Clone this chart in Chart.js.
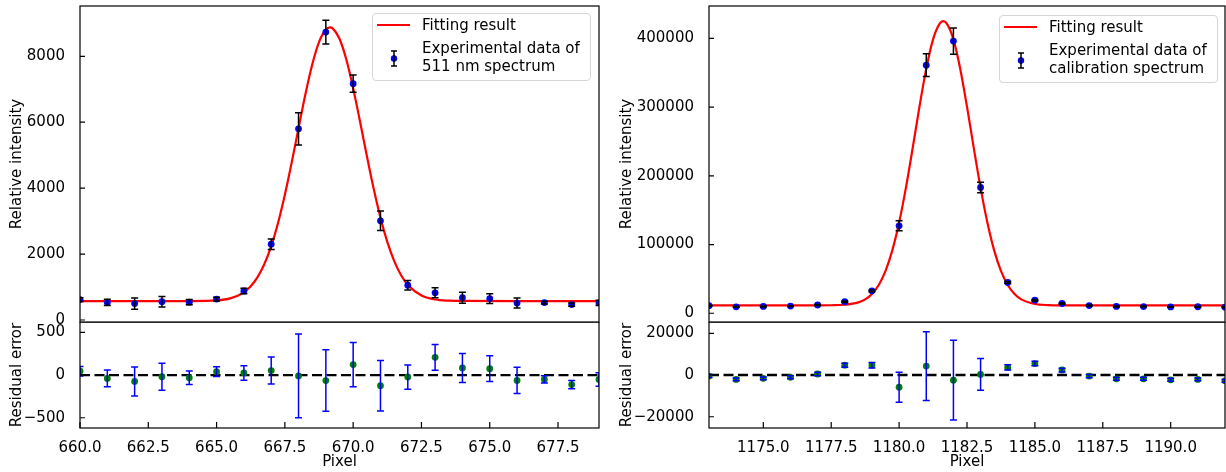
<!DOCTYPE html>
<html lang="en">
<head>
<meta charset="UTF-8">
<title>Gaussian fit of spectra</title>
<style>
  body { margin: 0; background: #fff; font-family: 'DejaVu Sans', sans-serif; }
  #wrap { position: relative; width: 1226px; height: 472px; overflow: hidden; }
  canvas { position: absolute; }
  .legend { position: absolute; width: 217px; height: 66px; border: 1px solid #d6d6d6; border-radius: 4px; background: rgba(255,255,255,0.8); color: #000; font-size: 15px; }
  .legend .ln { position: absolute; left: 4px; top: 10px; width: 33px; height: 2px; background: #f00; }
  .legend .t1 { position: absolute; left: 49px; top: 2px; line-height: 18px; white-space: nowrap; }
  .legend .t2 { position: absolute; left: 49px; top: 25px; line-height: 18.4px; white-space: nowrap; }
  .legend svg { position: absolute; left: 14px; top: 35px; }
</style>
</head>
<body>
<div id="wrap">
  <canvas id="resL" width="610" height="150" style="left:0;top:322px"></canvas>
  <canvas id="resR" width="616" height="150" style="left:610px;top:322px"></canvas>
  <canvas id="mainL" width="610" height="340" style="left:0;top:0"></canvas>
  <canvas id="mainR" width="616" height="340" style="left:610px;top:0"></canvas>

  <div class="legend" style="left:372px;top:13px">
    <div class="ln"></div>
    <div class="t1">Fitting result</div>
    <svg width="14" height="20"><path d="M7 2V17M4 2H10M4 17H10" stroke="#000" stroke-width="1.5" fill="none"/><circle cx="7" cy="9.5" r="3.2" fill="#00f"/><path d="M7 6V13" stroke="#000" stroke-width="1.5"/></svg>
    <div class="t2">Experimental data of<br>511 nm spectrum</div>
  </div>
  <div class="legend" style="left:999px;top:15px">
    <div class="ln"></div>
    <div class="t1">Fitting result</div>
    <svg width="14" height="20"><path d="M7 2V17M4 2H10M4 17H10" stroke="#000" stroke-width="1.5" fill="none"/><circle cx="7" cy="9.5" r="3.2" fill="#00f"/><path d="M7 6V13" stroke="#000" stroke-width="1.5"/></svg>
    <div class="t2">Experimental data of<br>calibration spectrum</div>
  </div>
</div>

<script src="https://cdn.jsdelivr.net/npm/chart.js"></script>
<script>
// 511 nm spectrum (left)
const pxL = [660, 661, 662, 663, 664, 665, 666, 667, 668, 669, 670, 671, 672, 673, 674, 675, 676, 677, 678, 679];
const intL = [620, 535, 500, 555, 541, 636, 880, 2300, 5800, 8735, 7170, 3010, 1055, 825, 675, 650, 515, 530, 468, 522];
const errL = [55, 98, 170, 157, 78, 58, 85, 158, 490, 360, 260, 295, 142, 152, 170, 150, 153, 43, 49, 79];
const resL = [45, -40, -75, -20, -32, 40, 25, 52, -10, -65, 122, -125, -23, 207, 83, 75, -63, -51, -112, -51];
const fitLx = [660, 662, 664, 665, 665.5, 666, 666.25, 666.5, 666.75, 667, 667.25, 667.5, 667.75, 668, 668.25, 668.5, 668.75, 669, 669.15, 669.25, 669.5, 669.75, 670, 670.25, 670.5, 670.75, 671, 671.25, 671.5, 671.75, 672, 672.5, 673, 673.5, 674, 676, 679];
const fitLy = [575, 575, 576, 596, 656, 840, 1022, 1300, 1698, 2242, 2945, 3801, 4777, 5819, 6841, 7743, 8427, 8810, 8875, 8846, 8530, 7900, 7033, 6028, 4983, 3987, 3105, 2370, 1795, 1368, 1070, 744, 623, 587, 578, 575, 575];

// calibration spectrum (right)
const pxR = [1173, 1174, 1175, 1176, 1177, 1178, 1179, 1180, 1181, 1182, 1183, 1184, 1185, 1186, 1187, 1188, 1189, 1190, 1191, 1192];
const intR = [11000, 9400, 9900, 10400, 12000, 16800, 32700, 127300, 361000, 396000, 183000, 44800, 19000, 14200, 11200, 9900, 9800, 9300, 9500, 8800];
const errR = [700, 700, 700, 700, 800, 1000, 1300, 7200, 16500, 19150, 7650, 1250, 1100, 900, 800, 700, 700, 700, 700, 700];
const resR = [-500, -2100, -1600, -1100, 500, 4700, 4700, -5850, 4300, -2450, 300, 3650, 5500, 2400, -500, -1800, -1800, -2300, -2100, -2800];
const fitRx = [1173, 1175, 1177, 1177.5, 1178, 1178.5, 1178.75, 1179, 1179.25, 1179.5, 1179.75, 1180, 1180.25, 1180.5, 1180.75, 1181, 1181.25, 1181.5, 1181.625, 1181.75, 1182, 1182.25, 1182.5, 1182.75, 1183, 1183.25, 1183.5, 1183.75, 1184, 1184.25, 1184.5, 1185, 1185.5, 1186, 1188, 1192];
const fitRy = [11500, 11500, 11520, 11650, 12390, 15810, 20200, 28030, 41150, 61640, 91500, 131950, 182460, 240400, 300600, 355960, 398600, 421900, 425000, 421900, 398580, 355900, 300600, 240400, 182400, 132000, 91500, 61700, 41200, 28060, 20200, 13500, 11870, 11540, 11500, 11500];

// tick labels
const xTicksL = [660, 662.5, 665, 667.5, 670, 672.5, 675, 677.5];
const xTicksR = [1175, 1177.5, 1180, 1182.5, 1185, 1187.5, 1190];
const yTicksL = [0, 2000, 4000, 6000, 8000];
const rTicksL = [-500, 0, 500];
const yTicksR = [0, 100000, 200000, 300000, 400000];
const rTicksR = [-20000, 0, 20000];
const zeroLine = [0, 0];

Chart.defaults.font.family = "'DejaVu Sans', sans-serif";
Chart.defaults.font.size = 15;
Chart.defaults.color = '#000';

const pts = (xs, ys) => xs.map((x, i) => ({ x: x, y: ys[i] }));

// error bars drawn with the chart's own scales
function errPlugin(xs, ys, errs, color) {
  return {
    id: 'errorBars',
    afterDatasetsDraw(chart) {
      const { ctx, chartArea: a, scales: { x, y } } = chart;
      ctx.save();
      ctx.beginPath();
      ctx.rect(a.left, a.top, a.right - a.left, a.bottom - a.top);
      ctx.clip();
      ctx.strokeStyle = color;
      ctx.lineWidth = 1.5;
      xs.forEach((v, i) => {
        const px = x.getPixelForValue(v);
        const top = y.getPixelForValue(ys[i] + errs[i]);
        const bot = y.getPixelForValue(ys[i] - errs[i]);
        ctx.beginPath();
        ctx.moveTo(px, top); ctx.lineTo(px, bot);
        ctx.moveTo(px - 3.5, top); ctx.lineTo(px + 3.5, top);
        ctx.moveTo(px - 3.5, bot); ctx.lineTo(px + 3.5, bot);
        ctx.stroke();
      });
      ctx.restore();
    }
  };
}

// axes box and inward ticks
function framePlugin(withX) {
  return {
    id: 'frame',
    afterDraw(chart) {
      const { ctx, chartArea: a, scales: { x, y } } = chart;
      ctx.save();
      ctx.strokeStyle = '#000';
      ctx.lineWidth = 1.2;
      ctx.strokeRect(a.left, a.top, a.right - a.left, a.bottom - a.top);
      ctx.beginPath();
      y.ticks.forEach(t => {
        const py = y.getPixelForValue(t.value);
        ctx.moveTo(a.left, py); ctx.lineTo(a.left + 5, py);
      });
      if (withX) {
        x.ticks.forEach(t => {
          const px = x.getPixelForValue(t.value);
          ctx.moveTo(px, a.bottom); ctx.lineTo(px, a.bottom - 6);
        });
      }
      ctx.stroke();
      ctx.restore();
    }
  };
}

function makeChart(id, o) {
  return new Chart(document.getElementById(id), {
    type: 'scatter',
    data: { datasets: o.datasets },
    options: {
      responsive: false,
      animation: false,
      events: [],
      layout: { autoPadding: false, padding: { top: o.top, right: o.right, left: 0, bottom: o.bottom } },
      plugins: { legend: { display: false }, tooltip: { enabled: false } },
      scales: {
        x: {
          type: 'linear', min: o.xmin, max: o.xmax, display: o.showX,
          grid: { display: false }, border: { display: false },
          afterBuildTicks: s => { s.ticks = o.xTicks.map(v => ({ value: v })); },
          ticks: { autoSkip: false, maxRotation: 0, padding: 3, callback: v => v.toFixed(1) },
          title: { display: true, text: 'Pixel', padding: { top: 0, bottom: 1 } },
          afterFit: s => {
            if (o.showX) s.height = 44;
            s.paddingLeft = 0; s.paddingRight = 0;
          }
        },
        y: {
          type: 'linear', min: o.ymin, max: o.ymax,
          grid: { display: false }, border: { display: false },
          afterBuildTicks: s => { s.ticks = o.yTicks.map(v => ({ value: v })); },
          ticks: { padding: 7, callback: v => String(v).replace('-', '\u2212') },
          title: { display: true, text: o.ytitle, padding: { top: 8, bottom: 0 } },
          afterFit: s => {
            s.width = o.yw;
            s.paddingTop = 0; s.paddingBottom = 0;
          }
        }
      }
    },
    plugins: [framePlugin(o.showX), errPlugin(o.ex, o.ey, o.ee, o.ecolor)]
  });
}

const fitSet = (xs, ys) => ({
  data: pts(xs, ys), showLine: true, borderColor: '#ff0000', borderWidth: 2.2,
  pointRadius: 0, cubicInterpolationMode: 'monotone', order: 2
});
const dotSet = (xs, ys, c) => ({
  data: pts(xs, ys), showLine: false, pointRadius: 3.4, pointBorderWidth: 0,
  pointBackgroundColor: c, backgroundColor: c, order: 1
});
const zeroSet = xs => ({
  data: pts([xs[0], xs[xs.length - 1]], zeroLine), showLine: true, borderColor: '#000',
  borderWidth: 2.3, borderDash: [10, 4.5], pointRadius: 0, order: 3
});

makeChart('mainL', {
  datasets: [fitSet(fitLx, fitLy), dotSet(pxL, intL, '#0000ff')],
  xmin: 660, xmax: 679, ymin: -60, ymax: 9525, showX: false,
  xTicks: xTicksL, yTicks: yTicksL, ytitle: 'Relative intensity', yw: 80,
  top: 6, right: 11, bottom: 18, ex: pxL, ey: intL, ee: errL, ecolor: '#000'
});
makeChart('resL', {
  datasets: [zeroSet(pxL), dotSet(pxL, resL, '#008000')],
  xmin: 660, xmax: 679, ymin: -620, ymax: 621, showX: true,
  xTicks: xTicksL, yTicks: rTicksL, ytitle: 'Residual error', yw: 80,
  top: 0, right: 11, bottom: 0, ex: pxL, ey: resL, ee: errL, ecolor: '#0000ff'
});
makeChart('mainR', {
  datasets: [fitSet(fitRx, fitRy), dotSet(pxR, intR, '#0000ff')],
  xmin: 1173, xmax: 1192, ymin: -12700, ymax: 447100, showX: false,
  xTicks: xTicksR, yTicks: yTicksR, ytitle: 'Relative intensity', yw: 99,
  top: 6, right: 1, bottom: 18, ex: pxR, ey: intR, ee: errR, ecolor: '#000'
});
makeChart('resR', {
  datasets: [zeroSet(pxR), dotSet(pxR, resR, '#008000')],
  xmin: 1173, xmax: 1192, ymin: -25400, ymax: 25420, showX: true,
  xTicks: xTicksR, yTicks: rTicksR, ytitle: 'Residual error', yw: 99,
  top: 0, right: 1, bottom: 0, ex: pxR, ey: resR, ee: errR, ecolor: '#0000ff'
});
</script>
</body>
</html>
